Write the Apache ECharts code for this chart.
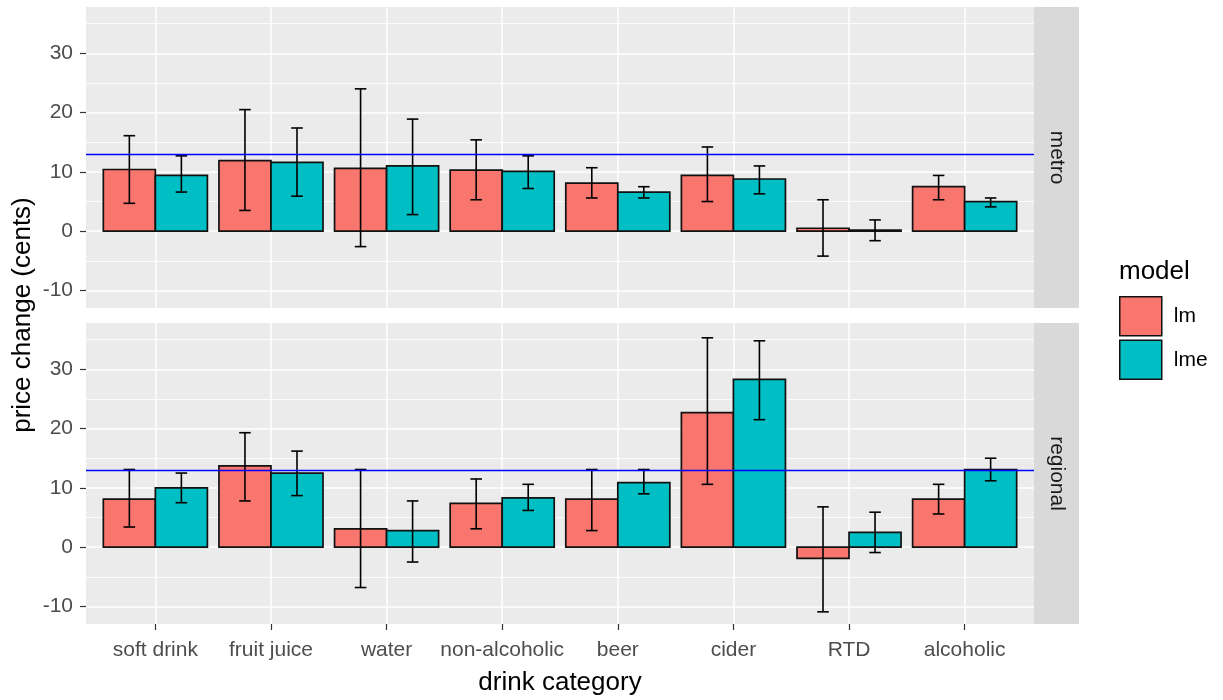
<!DOCTYPE html>
<html>
<head>
<meta charset="utf-8">
<script src="https://cdn.jsdelivr.net/npm/echarts@6.0.0/dist/echarts.min.js"></script>
<style>
  html, body { margin: 0; padding: 0; background: #fff; }
  #main { width: 1223px; height: 700px; }
</style>
</head>
<body>
<div id="main"></div>
<script>
// drink categories along x
var categories = ['soft drink', 'fruit juice', 'water', 'non-alcoholic', 'beer', 'cider', 'RTD', 'alcoholic'];
var yTicks = [-10, 0, 10, 20, 30];
var panels = ['metro', 'regional'];

// metro panel
var metroLm     = [10.4, 11.9, 10.6, 10.3, 8.1, 9.4, 0.5, 7.5];
var metroLmLo   = [4.7, 3.5, -2.6, 5.3, 5.6, 5.0, -4.2, 5.3];
var metroLmHi   = [16.1, 20.5, 24.0, 15.4, 10.7, 14.2, 5.3, 9.4];
var metroLme    = [9.4, 11.6, 11.0, 10.1, 6.6, 8.8, 0.2, 5.0];
var metroLmeLo  = [6.6, 5.9, 2.8, 7.2, 5.6, 6.3, -1.6, 4.1];
var metroLmeHi  = [12.7, 17.4, 18.9, 12.7, 7.5, 11.0, 1.9, 5.6];

// regional panel
var regionalLm    = [8.1, 13.7, 3.1, 7.4, 8.1, 22.7, -1.9, 8.1];
var regionalLmLo  = [3.4, 7.8, -6.8, 3.1, 2.8, 10.6, -10.9, 5.6];
var regionalLmHi  = [13.1, 19.3, 13.1, 11.5, 13.1, 35.3, 6.8, 10.6];
var regionalLme   = [10.0, 12.5, 2.8, 8.3, 10.9, 28.3, 2.5, 13.1];
var regionalLmeLo = [7.5, 8.7, -2.5, 6.2, 9.0, 21.5, -0.9, 11.2];
var regionalLmeHi = [12.5, 16.2, 7.8, 10.6, 13.1, 34.8, 5.9, 15.0];

// blue reference line
var refLine = 12.9;

var FONT = '"Liberation Sans", Arial, sans-serif';
var colors = { lm: '#F8766D', lme: '#00BFC4' };
var dodge = 0.225;   // half of dodge width 0.9 / 2 bars
var capHalf = 0.05;

var xTickVals = categories.map(function (c, i) { return i + 1; });

function barRender(offset) {
  return function (params, api) {
    var x = api.value(0) + offset;
    var p0 = api.coord([x - dodge, 0]);
    var p1 = api.coord([x + dodge, api.value(1)]);
    return {
      type: 'rect',
      shape: {
        x: p0[0], y: Math.min(p0[1], p1[1]),
        width: p1[0] - p0[0], height: Math.abs(p1[1] - p0[1])
      },
      style: api.style({ stroke: '#111', lineWidth: 1.7 })
    };
  };
}

function errRender(offset) {
  return function (params, api) {
    var x = api.value(0) + offset;
    var lo = api.coord([x, api.value(1)]);
    var hi = api.coord([x, api.value(2)]);
    var half = (api.coord([x + capHalf, 0])[0] - api.coord([x - capHalf, 0])[0]) / 2;
    var st = { stroke: '#000', lineWidth: 1.6 };
    return {
      type: 'group',
      children: [
        { type: 'line', shape: { x1: hi[0], y1: hi[1], x2: lo[0], y2: lo[1] }, style: st },
        { type: 'line', shape: { x1: hi[0] - half, y1: hi[1], x2: hi[0] + half, y2: hi[1] }, style: st },
        { type: 'line', shape: { x1: lo[0] - half, y1: lo[1], x2: lo[0] + half, y2: lo[1] }, style: st }
      ]
    };
  };
}

function pairs(vals) {
  return vals.map(function (v, i) { return [i + 1, v]; });
}
function triples(lo, hi) {
  return lo.map(function (v, i) { return [i + 1, v, hi[i]]; });
}

var panelData = [
  { lm: metroLm, lmLo: metroLmLo, lmHi: metroLmHi, lme: metroLme, lmeLo: metroLmeLo, lmeHi: metroLmeHi },
  { lm: regionalLm, lmLo: regionalLmLo, lmHi: regionalLmHi, lme: regionalLme, lmeLo: regionalLmeLo, lmeHi: regionalLmeHi }
];

var gridTops = [7, 323];
var gridH = 301;
var gridLeft = 86;
var gridW = 948;

var grids = [], xAxes = [], yAxes = [], series = [], graphics = [];

panelData.forEach(function (d, p) {
  grids.push({
    left: gridLeft, top: gridTops[p], width: gridW, height: gridH,
    show: true, backgroundColor: '#EBEBEB', borderWidth: 0
  });
  xAxes.push({
    type: 'value', gridIndex: p, min: 0.4, max: 8.6, splitNumber: 8,
    axisLine: { show: false, onZero: false },
    axisTick: {
      show: p === 1, length: 6, customValues: xTickVals,
      lineStyle: { color: '#333333', width: 1.2 }
    },
    axisLabel: {
      show: p === 1, customValues: xTickVals, margin: 16,
      color: '#4D4D4D', fontSize: 21, fontFamily: FONT,
      formatter: function (v) { return categories[Math.round(v) - 1] || ''; }
    },
    splitLine: { show: true, lineStyle: { color: '#FFFFFF', width: 1.5 } }
  });
  yAxes.push({
    type: 'value', gridIndex: p, min: -12.95, max: 37.8, splitNumber: 5,
    axisLine: { show: false, onZero: false },
    axisTick: {
      show: true, length: 6, customValues: yTicks,
      lineStyle: { color: '#333333', width: 1.2 }
    },
    axisLabel: {
      customValues: yTicks, margin: 13,
      color: '#4D4D4D', fontSize: 21, fontFamily: FONT
    },
    splitLine: { show: true, lineStyle: { color: '#FFFFFF', width: 1.5 } },
    minorTick: { show: false, splitNumber: 2 },
    minorSplitLine: { show: true, lineStyle: { color: '#FFFFFF', width: 0.8 } }
  });

  series.push({
    type: 'custom', name: 'lm', xAxisIndex: p, yAxisIndex: p, z: 2, clip: true,
    itemStyle: { color: colors.lm, borderColor: '#111', borderWidth: 1.5 },
    renderItem: barRender(-dodge), data: pairs(d.lm)
  });
  series.push({
    type: 'custom', name: 'lme', xAxisIndex: p, yAxisIndex: p, z: 2, clip: true,
    itemStyle: { color: colors.lme, borderColor: '#111', borderWidth: 1.5 },
    renderItem: barRender(dodge), data: pairs(d.lme)
  });
  series.push({
    type: 'custom', name: 'lm-err', xAxisIndex: p, yAxisIndex: p, z: 3, clip: true,
    renderItem: errRender(-dodge), data: triples(d.lmLo, d.lmHi)
  });
  series.push({
    type: 'custom', name: 'lme-err', xAxisIndex: p, yAxisIndex: p, z: 3, clip: true,
    renderItem: errRender(dodge), data: triples(d.lmeLo, d.lmeHi)
  });
  series.push({
    type: 'line', name: 'ref', xAxisIndex: p, yAxisIndex: p, z: 5, data: [],
    markLine: {
      silent: true, symbol: 'none', animation: false,
      label: { show: false },
      lineStyle: { color: '#0000FF', width: 1.3, type: 'solid' },
      data: [{ yAxis: refLine }]
    }
  });

  // facet strip on the right
  graphics.push({
    type: 'rect', left: gridLeft + gridW, top: gridTops[p],
    shape: { width: 45, height: gridH }, style: { fill: '#D9D9D9' }, silent: true
  });
  graphics.push({
    type: 'text', x: gridLeft + gridW + 22.5, y: gridTops[p] + gridH / 2,
    rotation: -Math.PI / 2, silent: true,
    style: {
      text: panels[p], fill: '#1A1A1A', font: '21px ' + FONT,
      align: 'center', verticalAlign: 'middle'
    }
  });
});

graphics.push({
  type: 'text', x: 23, y: 315, rotation: Math.PI / 2, silent: true,
  style: {
    text: 'price change (cents)', fill: '#000', font: '26px ' + FONT,
    align: 'center', verticalAlign: 'middle'
  }
});
graphics.push({
  type: 'text', x: gridLeft + gridW / 2, y: 683, silent: true,
  style: {
    text: 'drink category', fill: '#000', font: '26px ' + FONT,
    align: 'center', verticalAlign: 'middle'
  }
});
graphics.push({
  type: 'text', x: 1119, y: 272, silent: true,
  style: {
    text: 'model', fill: '#000', font: '26px ' + FONT,
    align: 'left', verticalAlign: 'middle'
  }
});

var chart = echarts.init(document.getElementById('main'), null, { renderer: 'canvas' });
chart.setOption({
  animation: false,
  backgroundColor: '#FFFFFF',
  grid: grids,
  xAxis: xAxes,
  yAxis: yAxes,
  legend: {
    data: ['lm', 'lme'],
    orient: 'vertical', left: 1119, top: 296, padding: 0,
    itemWidth: 42, itemHeight: 39, itemGap: 3, icon: 'rect',
    itemStyle: { borderColor: '#111', borderWidth: 1.5 },
    textStyle: { fontSize: 21, color: '#000', fontFamily: FONT, padding: [0, 0, 0, 7] }
  },
  graphic: graphics,
  series: series
});
</script>
</body>
</html>
